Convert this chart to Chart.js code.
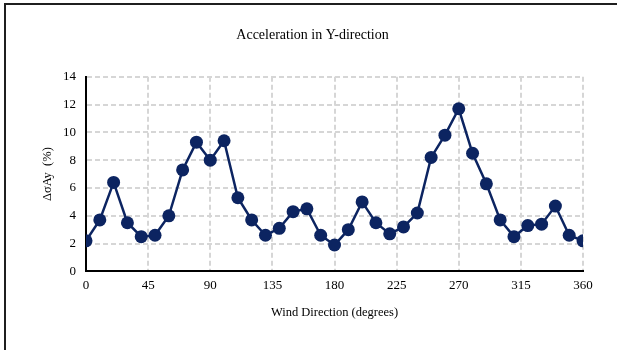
<!DOCTYPE html>
<html>
<head>
<meta charset="utf-8">
<script src="https://cdn.jsdelivr.net/npm/chart.js@4/dist/chart.umd.min.js"></script>
<style>
  body { margin: 0; background: #fff; overflow: hidden; }
  #frame {
    position: absolute; left: 4px; top: 3px; width: 700px; height: 400px;
    border-top: 2px solid #1f1f1f; border-left: 2px solid #1f1f1f;
  }
  #wrap { position: absolute; left: 0; top: 0; width: 617px; height: 350px; }
</style>
</head>
<body>
<div id="frame"></div>
<div id="wrap"><canvas id="chart" width="617" height="350"></canvas></div>
<script>
// Wind direction (degrees) and change in sigma of Y acceleration (%)
const directions = [0, 10, 20, 30, 40, 50, 60, 70, 80, 90, 100, 110, 120, 130, 140, 150, 160, 170, 180,
  190, 200, 210, 220, 230, 240, 250, 260, 270, 280, 290, 300, 310, 320, 330, 340, 350, 360];
const deltaSigmaAy = [2.2, 3.7, 6.4, 3.5, 2.5, 2.6, 4.0, 7.3, 9.3, 8.0, 9.4, 5.3, 3.7, 2.6, 3.1, 4.3, 4.5, 2.6, 1.9,
  3.0, 5.0, 3.5, 2.7, 3.2, 4.2, 8.2, 9.8, 11.7, 8.5, 6.3, 3.7, 2.5, 3.3, 3.4, 4.7, 2.6, 2.2];
const xTicks = [0, 45, 90, 135, 180, 225, 270, 315, 360];
const yTicks = [0, 2, 4, 6, 8, 10, 12, 14];

const serif = "'Liberation Serif', 'Times New Roman', serif";
const navy = '#0c2461';
const gridColor = '#d6d6d6';

const ctx = document.getElementById('chart').getContext('2d');
new Chart(ctx, {
  type: 'line',
  data: {
    datasets: [{
      label: 'ΔσAy',
      data: directions.map((d, i) => ({ x: d, y: deltaSigmaAy[i] })),
      borderColor: navy,
      backgroundColor: navy,
      borderWidth: 2.5,
      pointRadius: 6.5,
      pointBorderWidth: 0,
      pointBackgroundColor: navy,
      tension: 0,
      fill: false,
    }],
  },
  options: {
    responsive: false,
    animation: false,
    layout: { padding: { left: 42, right: 34, top: 0, bottom: 30 } },
    plugins: {
      legend: { display: false },
      tooltip: { enabled: false },
      title: {
        display: true,
        text: 'Acceleration in Y-direction',
        color: '#000',
        font: { family: serif, size: 14, weight: 'normal' },
        padding: { top: 27, bottom: 33 },
      },
    },
    scales: {
      x: {
        type: 'linear',
        min: 0,
        max: 360,
        afterBuildTicks: (scale) => { scale.ticks = xTicks.map(v => ({ value: v })); },
        ticks: { color: '#000', font: { family: serif, size: 13 }, padding: 6, maxRotation: 0 },
        grid: { color: gridColor, lineWidth: 2, drawTicks: false },
        border: { color: '#000', width: 2, dash: [5, 3] },
        title: {
          display: true,
          text: 'Wind Direction (degrees)',
          color: '#000',
          font: { family: serif, size: 12.5 },
          padding: { top: 6, bottom: 0 },
        },
      },
      y: {
        min: 0,
        max: 14,
        afterBuildTicks: (scale) => { scale.ticks = yTicks.map(v => ({ value: v })); },
        afterFit: (scale) => { scale.width = 44; },
        ticks: { color: '#000', font: { family: serif, size: 13 }, padding: 10 },
        grid: { color: gridColor, lineWidth: 2, drawTicks: false },
        border: { color: '#000', width: 2, dash: [5, 3] },
        title: {
          display: true,
          text: 'ΔσAy  (%)',
          color: '#000',
          font: { family: serif, size: 12.5 },
          padding: { top: -1.5, bottom: 0 },
        },
      },
    },
  },
});
</script>
</body>
</html>
